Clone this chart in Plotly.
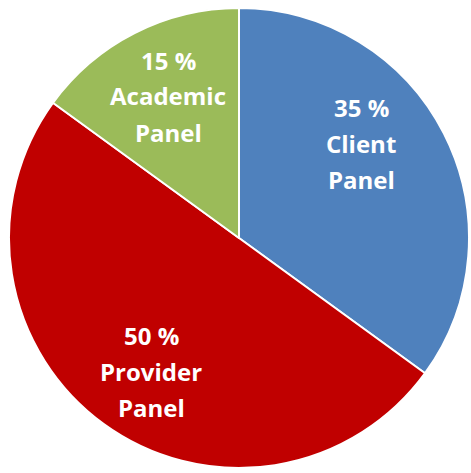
import plotly.graph_objects as go

labels = ["Client Panel", "Provider Panel", "Academic Panel"]
values = [35, 50, 15]
colors = ["#4F81BD", "#C00000", "#9BBB59"]

W, H = 471, 473
# label block centres in pixels (layout only)
label_pos = [(361, 143), (151, 371), (168, 96)]
line_gap = 36

fig = go.Figure(go.Pie(
    labels=labels, values=values, sort=False, direction="clockwise", rotation=0,
    marker=dict(colors=colors, line=dict(color="white", width=2)),
    textinfo="none", hoverinfo="label+percent", showlegend=False,
    domain=dict(x=[8/W, 470/W], y=[1-468/H, 1-8/H]),
))

annotations = []
for lab, val, (px, py) in zip(labels, values, label_pos):
    name, panel = lab.split(" ")
    lines = [f"{val} %", name, panel]
    for i, t in enumerate(lines):
        yy = py + (i - 1) * line_gap
        annotations.append(dict(
            x=px / W, y=1 - yy / H, xref="paper", yref="paper",
            text=f"<b>{t}</b>", showarrow=False, xanchor="center", yanchor="middle",
            font=dict(family="Open Sans", size=24, color="white"),
        ))

fig.update_layout(
    width=W, height=H, margin=dict(l=0, r=0, t=0, b=0),
    paper_bgcolor="white", plot_bgcolor="white",
    annotations=annotations,
)
fig.write_html("out.html")
